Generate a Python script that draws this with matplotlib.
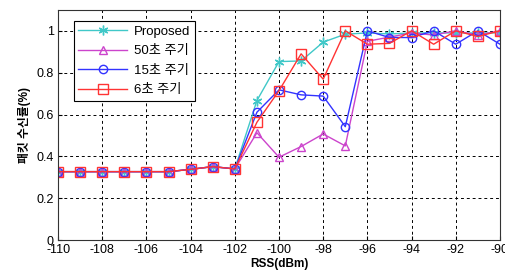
import numpy as np
import matplotlib
matplotlib.use("Agg")
import matplotlib.pyplot as plt

plt.rcParams['font.family'] = ['Liberation Sans', 'Noto Sans CJK KR', 'DejaVu Sans']
plt.rcParams['axes.unicode_minus'] = False

rss = list(range(-110, -89))
proposed = [0.327, 0.327, 0.327, 0.327, 0.327, 0.327, 0.338, 0.351, 0.34,
            0.667, 0.853, 0.856, 0.946, 0.984, 0.99, 0.985, 0.99, 0.99, 0.99, 0.99, 0.99]
p50 = [0.327, 0.327, 0.327, 0.327, 0.327, 0.327, 0.338, 0.351, 0.34,
       0.513, 0.396, 0.447, 0.507, 0.45, 0.95, 0.97, 0.99, 0.98, 1.0, 0.98, 1.0]
p15 = [0.327, 0.327, 0.327, 0.327, 0.327, 0.327, 0.338, 0.351, 0.34,
       0.611, 0.718, 0.694, 0.688, 0.542, 1.0, 0.968, 0.968, 1.0, 0.936, 1.0, 0.936]
p6 = [0.327, 0.327, 0.327, 0.327, 0.327, 0.327, 0.338, 0.351, 0.34,
      0.563, 0.714, 0.89, 0.769, 1.0, 0.936, 0.94, 1.0, 0.936, 1.0, 0.973, 1.0]
labels = ['Proposed', '50초 주기', '15초 주기', '6초 주기']

fig = plt.figure(figsize=(5.05, 2.75), dpi=100)
ax = fig.add_axes([0.115, 0.127, 0.875, 0.837])

ax.plot(rss, proposed, color='#40c8c8', marker=(6, 2, 0), ms=7, lw=1, label=labels[0])
ax.plot(rss, p50, color='#cc44cc', marker='^', ms=6, lw=1, mfc='none', label=labels[1])
ax.plot(rss, p15, color='#3333ff', marker='o', ms=6, lw=1, mfc='none', label=labels[2])
ax.plot(rss, p6, color='#ff3333', marker='s', ms=7, lw=1, mfc='none', label=labels[3])

ax.set_xlim(-110, -90)
ax.set_ylim(0, 1.1)
ax.set_xticks(range(-110, -89, 2))
ax.set_yticks([0, 0.2, 0.4, 0.6, 0.8, 1])
ax.set_yticklabels(['0', '0.2', '0.4', '0.6', '0.8', '1'])
ax.tick_params(labelsize=9, direction='in', length=3, pad=3)
ax.grid(True, color='k', ls=(0, (3, 3)), lw=0.7)
for s in ax.spines.values():
    s.set_color('#333333')

ax.set_xlabel('RSS(dBm)', fontsize=8.5, fontweight='bold', labelpad=1)
ax.set_ylabel('패킷 수신률(%)', fontsize=8.5, fontweight='bold', labelpad=4)

leg = ax.legend(loc='upper left', fontsize=9.5, fancybox=False, framealpha=1,
                edgecolor='k', borderpad=0.35, labelspacing=0.55, handlelength=3.7,
                handletextpad=0.5, bbox_to_anchor=(0.02, 0.98))
leg.get_frame().set_linewidth(0.8)

fig.savefig('out.png', dpi=100)
